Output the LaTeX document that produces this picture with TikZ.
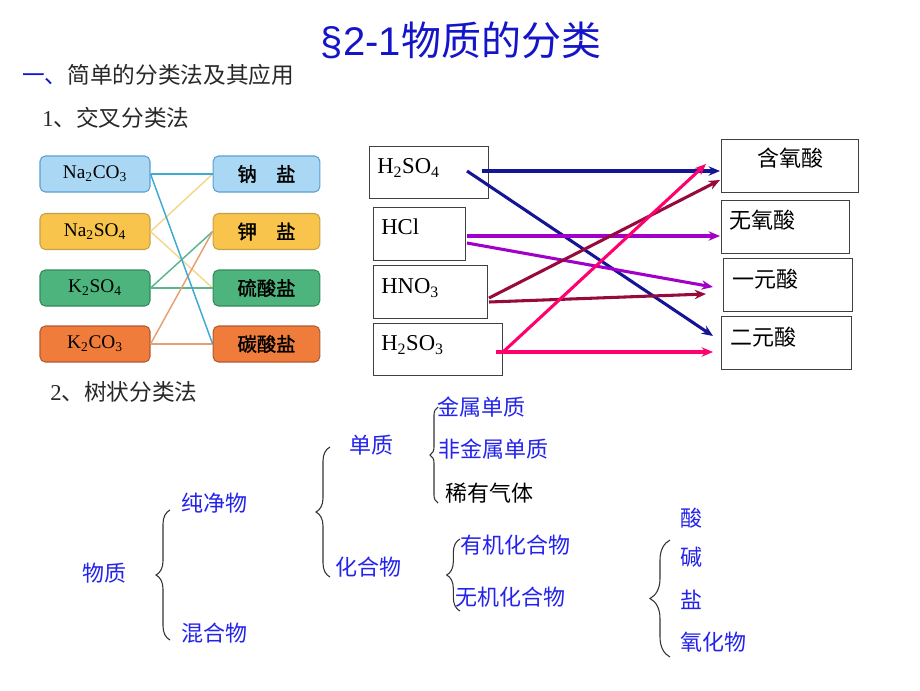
\documentclass[tikz,border=0pt]{standalone}
\usepackage{fontspec}
\setmainfont{Liberation Serif}
\newfontfamily\cjk{Noto Sans CJK SC}
\newfontfamily\cjkb[FakeBold=1.5]{Noto Sans CJK SC}
\newfontfamily\titlefont{Liberation Sans}
\usetikzlibrary{arrows.meta,decorations.pathreplacing,calc}
\definecolor{titleblue}{RGB}{20,20,200}
\definecolor{treeblue}{RGB}{35,35,235}
\definecolor{headgray}{RGB}{40,40,40}
\definecolor{bluefill}{RGB}{170,216,244}
\definecolor{blueedge}{RGB}{90,160,210}
\definecolor{yelfill}{RGB}{248,196,76}
\definecolor{yeledge}{RGB}{200,160,70}
\definecolor{grnfill}{RGB}{76,180,124}
\definecolor{grnedge}{RGB}{50,140,90}
\definecolor{orgfill}{RGB}{240,124,60}
\definecolor{orgedge}{RGB}{180,90,50}
\definecolor{bline}{RGB}{60,170,210}
\definecolor{yline}{RGB}{245,215,140}
\definecolor{gline}{RGB}{90,180,140}
\definecolor{oline}{RGB}{230,160,110}
\definecolor{navy}{RGB}{20,20,150}
\definecolor{purp}{RGB}{160,0,200}
\definecolor{maroon}{RGB}{150,10,60}
\definecolor{pinkr}{RGB}{255,0,110}
\begin{document}
\begin{tikzpicture}[x=0.75pt,y=-0.75pt,
  tx/.style={inner sep=0pt, anchor=west, font=\cjk\fontsize{16.5}{18}\selectfont},
  treeb/.style={tx, text=treeblue},
  head/.style={inner sep=0pt, anchor=west, text=headgray, font=\cjk\fontsize{17}{20}\selectfont},
  saltbox/.style={rounded corners=4pt, line width=0.8pt, minimum width=82.5pt, minimum height=27pt, inner sep=0pt, font=\fontsize{14.5}{16}\selectfont},
  saltcn/.style={saltbox, minimum width=80pt, font=\cjkb\fontsize{14.5}{16}\selectfont},
  acidbox/.style={draw=black!75, line width=0.75pt, inner sep=0pt},
  acidtx/.style={inner sep=0pt, anchor=west, font=\fontsize{17}{19}\selectfont},
  link/.style={line width=1.1pt},
  arr/.style={line width=2.3pt, -{Stealth[length=8.5pt,width=7pt]}},
  brc/.style={draw=black!80, line width=0.8pt, decorate},
]
\useasboundingbox (0,0) rectangle (920,690);

% title and headings
\node[inner sep=0pt, text=titleblue] (title) at (461,40)
  {\fontsize{30}{34}\selectfont\titlefont §2-1\cjk 物质的分类};
\node[head] (h1) at (22,75) {\textcolor{titleblue}{一、}简单的分类法及其应用};
\node[head] (h2) at (42,118) {{\rmfamily 1}、交叉分类法};
\node[head] (h3) at (50,392) {{\rmfamily 2}、树状分类法};

% cross classification (salts)
\node[saltbox, fill=bluefill, draw=blueedge] (na2co3) at (95,174) {Na\textsubscript{2}CO\textsubscript{3}};
\node[saltbox, fill=yelfill, draw=yeledge] (na2so4) at (95,231.5) {Na\textsubscript{2}SO\textsubscript{4}};
\node[saltbox, fill=grnfill, draw=grnedge] (k2so4) at (95,288) {K\textsubscript{2}SO\textsubscript{4}};
\node[saltbox, fill=orgfill, draw=orgedge] (k2co3) at (95,344) {K\textsubscript{2}CO\textsubscript{3}};
\node[saltcn, fill=bluefill, draw=blueedge] (na) at (266.5,174) {钠\quad 盐};
\node[saltcn, fill=yelfill, draw=yeledge] (k) at (266.5,231.5) {钾\quad 盐};
\node[saltcn, fill=grnfill, draw=grnedge] (so4) at (266.5,288) {硫酸盐};
\node[saltcn, fill=orgfill, draw=orgedge] (co3) at (266.5,344) {碳酸盐};

\draw[link, yline] (na2so4.east) -- (na.west);
\draw[link, yline] (na2so4.east) -- (so4.west);
\draw[link, gline] (k2so4.east) -- (k.west);
\draw[link, gline] (k2so4.east) -- (so4.west);
\draw[link, oline] (k2co3.east) -- (k.west);
\draw[link, oline] (k2co3.east) -- (co3.west);
\draw[link, bline] (na2co3.east) -- (na.west);
\draw[link, bline] (na2co3.east) -- (co3.west);

% acids
\node[acidbox, minimum width=89.25pt, minimum height=39pt] (h2so4) at (428.5,172) {};
\node[acidbox, minimum width=69pt, minimum height=39.75pt] (hcl) at (419,233.5) {};
\node[acidbox, minimum width=85.5pt, minimum height=39.75pt] (hno3) at (430,291.5) {};
\node[acidbox, minimum width=96.75pt, minimum height=39pt] (h2so3) at (437.5,349) {};
\node[acidbox, minimum width=102.75pt, minimum height=39.75pt] (hanyang) at (789.5,165.5) {};
\node[acidbox, minimum width=96pt, minimum height=39.75pt] (wuyang) at (785,226.5) {};
\node[acidbox, minimum width=96.75pt, minimum height=39.75pt] (yiyuan) at (787.5,284.5) {};
\node[acidbox, minimum width=97.5pt, minimum height=39.75pt] (eryuan) at (786,342.5) {};

\node[acidtx] (t1) at (377,168) {H\textsubscript{2}SO\textsubscript{4}};
\node[acidtx] (t2) at (381,227) {HCl};
\node[acidtx] (t3) at (381,288) {HNO\textsubscript{3}};
\node[acidtx] (t4) at (381,345) {H\textsubscript{2}SO\textsubscript{3}};
\node[tx, anchor=center] (t5) at (790,158) {含氧酸};
\node[tx] (t6) at (729,220) {无氧酸};
\node[tx] (t7) at (732,279) {一元酸};
\node[tx] (t8) at (730,337) {二元酸};

\coordinate (s1) at (482,171); \coordinate (e1) at (720,171);
\coordinate (s2) at (467,171); \coordinate (e2) at (713,336);
\coordinate (s3) at (467,236); \coordinate (e3) at (720,236);
\coordinate (s4) at (467,243); \coordinate (e4) at (713,287);
\coordinate (s5) at (489,298); \coordinate (e5) at (720,180);
\coordinate (s6) at (489,302); \coordinate (e6) at (706,294);
\coordinate (s7) at (503,352); \coordinate (e7) at (706,164);
\coordinate (s8) at (496,352); \coordinate (e8) at (713,352);

\draw[arr, navy] (s1) -- (e1);
\draw[arr, navy] (s2) -- (e2);
\draw[arr, purp] (s3) -- (e3);
\draw[arr, purp] (s4) -- (e4);
\draw[arr, maroon] (s5) -- (e5);
\draw[arr, maroon] (s6) -- (e6);
\draw[arr, pinkr] (s8) -- (e8);
\draw[arr, pinkr] (s7) -- (e7);

% tree classification
\node[treeb] (wz) at (82,573) {物质};
\node[treeb] (cjw) at (181,503) {纯净物};
\node[treeb] (hhw) at (181,633) {混合物};
\node[treeb] (dz) at (349,445) {单质};
\node[treeb] (hhw2) at (335,567) {化合物};
\node[treeb] (jsdz) at (437,407) {金属单质};
\node[treeb] (fjsdz) at (438,449) {非金属单质};
\node[tx] (xyqt) at (445,493) {稀有气体};
\node[treeb] (yjhhw) at (460,545) {有机化合物};
\node[treeb] (wjhhw) at (455,597) {无机化合物};
\node[treeb] (suan) at (680,518) {酸};
\node[treeb] (jian) at (680,557) {碱};
\node[treeb] (yan) at (680,600) {盐};
\node[treeb] (yhw) at (680,642) {氧化物};

\draw[brc, decoration={brace, amplitude=10.5pt}] (170,640) -- (170,510);
\draw[brc, decoration={brace, amplitude=10.5pt}] (330,577) -- (330,447);
\draw[brc, decoration={brace, amplitude=6pt}] (438,503) -- (438,407);
\draw[brc, decoration={brace, amplitude=10pt}] (460,611) -- (460,539);
\draw[brc, decoration={brace, amplitude=15pt}] (670,657) -- (670,540);
\end{tikzpicture}
\end{document}
